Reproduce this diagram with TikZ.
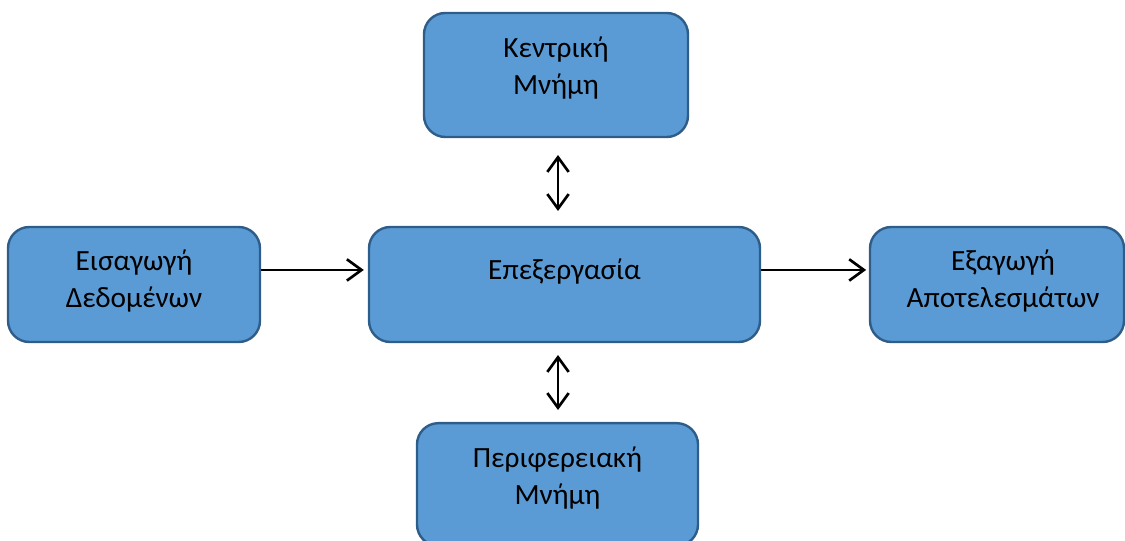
\documentclass[tikz,border=0pt]{standalone}
\usepackage{fontspec}
\setmainfont{Carlito}
\usetikzlibrary{arrows.meta}
\definecolor{boxfill}{HTML}{5B9BD5}
\definecolor{boxline}{HTML}{2F5D8A}
\begin{document}
\begin{tikzpicture}[x=0.75pt,y=-0.75pt,
  box/.style={draw=boxline,fill=boxfill,line width=1.8pt,rounded corners=16pt,inner sep=0pt},
  txt/.style={align=center,font=\fontsize{22pt}{27.75pt}\selectfont,inner sep=0pt},
  arr/.style={line width=2pt,-{Straight Barb[length=11pt,width=16pt,line width=2pt]}},
  dbl/.style={line width=2pt,{Straight Barb[length=11pt,width=16pt,line width=2pt]}-{Straight Barb[length=11pt,width=16pt,line width=2pt]}}]
\useasboundingbox (0,0) rectangle (1125,541);
\begin{scope}
\clip (0,0) rectangle (1125,541);
\node[box,minimum width=198pt,minimum height=93pt] (top) at (556,75) {};
\node[box,minimum width=293.25pt,minimum height=86.25pt] (mid) at (564.5,284.5) {};
\node[box,minimum width=189pt,minimum height=86.25pt] (left) at (134,284.5) {};
\node[box,minimum width=190.5pt,minimum height=86.25pt] (right) at (997,284.5) {};
\node[box,minimum width=210.75pt,minimum height=92pt] (bot) at (557.5,484.5) {};
\end{scope}
\node[txt] (topt) at (556,68.5) {Κεντρική\\Μνήμη};
\node[txt] (midt) at (564.5,272) {Επεξεργασία};
\node[txt] (leftt) at (134,281) {Εισαγωγή\\Δεδομένων};
\node[txt] (rightt) at (1003,281.5) {Εξαγωγή\\Αποτελεσμάτων};
\node[txt] (bott) at (557.5,478.5) {Περιφερειακή\\Μνήμη};
\coordinate (c1) at (558,155);
\coordinate (c2) at (558,211);
\coordinate (c3) at (558,355);
\coordinate (c4) at (558,410);
\draw[dbl] (c1) -- (c2);
\draw[dbl] (c3) -- (c4);
\draw[arr,shorten >=3pt] ([yshift=10.9pt]left.east) -- ([yshift=10.9pt]mid.west);
\draw[arr,shorten >=2pt] ([yshift=10.9pt]mid.east) -- ([yshift=10.9pt]right.west);
\end{tikzpicture}
\end{document}
